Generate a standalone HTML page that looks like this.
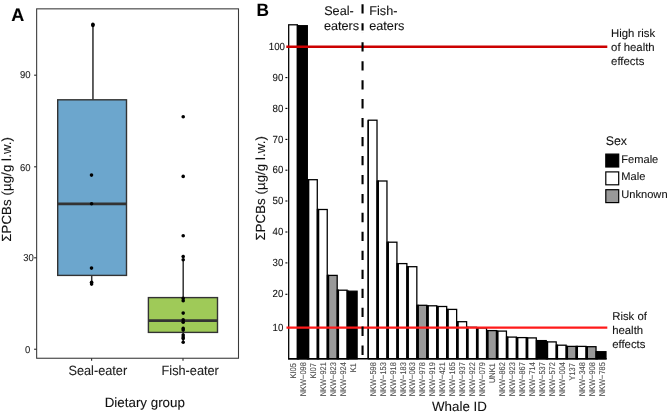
<!DOCTYPE html>
<html><head><meta charset="utf-8"><title>PCB levels in killer whales</title>
<style>html,body{margin:0;padding:0;background:#fff;}body{width:668px;height:415px;overflow:hidden;font-family:"Liberation Sans",sans-serif;}svg{display:block;will-change:transform;}text{font-family:"Liberation Sans",sans-serif;text-rendering:geometricPrecision;stroke:#1a1a1a;stroke-width:0.1px;}text.g{stroke:#4d4d4d;}</style>
</head><body>
<svg width="668" height="415" viewBox="0 0 668 415">
<rect x="0" y="0" width="668" height="415" fill="#ffffff"/>
<!-- Panel A -->
<text x="11.3" y="20.7" font-size="18" font-weight="bold" fill="#000">A</text>
<rect x="36.65" y="8.85" width="201.85" height="349.4" fill="none" stroke="#3a3a3a" stroke-width="1.08"/>
<line x1="34.1" y1="349.25" x2="36.7" y2="349.25" stroke="#333333" stroke-width="1.15"/>
<text transform="translate(30.3,352.65) scale(0.95,1)" font-size="10.0" text-anchor="end" fill="#262626">0</text>
<line x1="34.1" y1="257.80" x2="36.7" y2="257.80" stroke="#333333" stroke-width="1.15"/>
<text transform="translate(33.8,260.85) scale(0.95,1)" font-size="10.0" text-anchor="end" fill="#262626">30</text>
<line x1="34.1" y1="166.80" x2="36.7" y2="166.80" stroke="#333333" stroke-width="1.15"/>
<text transform="translate(30.6,170.55) scale(0.95,1)" font-size="10.0" text-anchor="end" fill="#262626">60</text>
<line x1="34.1" y1="75.20" x2="36.7" y2="75.20" stroke="#333333" stroke-width="1.15"/>
<text transform="translate(30.6,77.55) scale(0.95,1)" font-size="10.0" text-anchor="end" fill="#262626">90</text>
<line x1="91.6" y1="358.25" x2="91.6" y2="360.8" stroke="#333333" stroke-width="1.15"/>
<line x1="183" y1="358.25" x2="183" y2="360.8" stroke="#333333" stroke-width="1.15"/>
<text transform="translate(97.8,374.7) scale(0.95,1)" font-size="13.4" text-anchor="middle" fill="#222">Seal-eater</text>
<text transform="translate(190.2,374.7) scale(0.95,1)" font-size="13.4" text-anchor="middle" fill="#222">Fish-eater</text>
<text x="144.8" y="407.1" font-size="13.35" text-anchor="middle" fill="#111">Dietary group</text>
<text transform="translate(11.4,189.3) rotate(-90)" font-size="13.2" letter-spacing="0.105" text-anchor="middle" fill="#111">ΣPCBs (µg/g l.w.)</text>
<line x1="92.95" y1="24.8" x2="92.95" y2="99.8" stroke="#333333" stroke-width="1.55"/>
<line x1="91.7" y1="275" x2="91.7" y2="283.5" stroke="#333333" stroke-width="1.5"/>
<rect x="57.7" y="99.8" width="68.8" height="175.6" fill="#6ca6cd" stroke="#333333" stroke-width="1.4"/>
<line x1="57.7" y1="203.9" x2="126.5" y2="203.9" stroke="#333333" stroke-width="2.7"/>
<circle cx="92.9" cy="24.2" r="1.8" fill="#000"/>
<circle cx="92.9" cy="25.4" r="1.8" fill="#000"/>
<circle cx="91.5" cy="175.1" r="1.8" fill="#000"/>
<circle cx="91.6" cy="203.8" r="1.8" fill="#000"/>
<circle cx="91.5" cy="268.1" r="1.8" fill="#000"/>
<circle cx="91.6" cy="282.3" r="1.8" fill="#000"/>
<circle cx="91.6" cy="284.1" r="1.8" fill="#000"/>
<line x1="183.2" y1="259.5" x2="183.2" y2="298" stroke="#333333" stroke-width="1.5"/>
<line x1="183.2" y1="332" x2="183.2" y2="342" stroke="#333333" stroke-width="1.5"/>
<rect x="148.4" y="297.6" width="69.1" height="34.8" fill="#9fca58" stroke="#333333" stroke-width="1.4"/>
<line x1="148.4" y1="320.7" x2="217.5" y2="320.7" stroke="#333333" stroke-width="2.7"/>
<circle cx="183.2" cy="116.8" r="1.8" fill="#000"/>
<circle cx="183.2" cy="176.4" r="1.8" fill="#000"/>
<circle cx="183.2" cy="235.7" r="1.8" fill="#000"/>
<circle cx="183.2" cy="256.6" r="1.8" fill="#000"/>
<circle cx="183.2" cy="259.8" r="1.8" fill="#000"/>
<circle cx="183.2" cy="298.4" r="1.8" fill="#000"/>
<circle cx="183.2" cy="300.8" r="1.8" fill="#000"/>
<circle cx="183.2" cy="313.1" r="1.8" fill="#000"/>
<circle cx="183.2" cy="319.9" r="1.8" fill="#000"/>
<circle cx="183.2" cy="322.2" r="1.8" fill="#000"/>
<circle cx="183.2" cy="328.4" r="1.8" fill="#000"/>
<circle cx="183.2" cy="330.1" r="1.8" fill="#000"/>
<circle cx="183.2" cy="335.0" r="1.8" fill="#000"/>
<circle cx="183.2" cy="337.0" r="1.8" fill="#000"/>
<circle cx="183.2" cy="338.6" r="1.8" fill="#000"/>
<circle cx="183.2" cy="342.2" r="1.8" fill="#000"/>
<!-- Panel B -->
<text transform="translate(256.6,16.15) scale(0.965,1)" font-size="17.9" font-weight="bold" fill="#000">B</text>
<rect x="288.69" y="24.80" width="8.68" height="334.01" fill="#ffffff" stroke="#000" stroke-width="1.28"/>
<rect x="298.64" y="25.70" width="8.68" height="333.11" fill="#000000" stroke="#000" stroke-width="1.28"/>
<rect x="308.60" y="179.70" width="8.68" height="179.11" fill="#ffffff" stroke="#000" stroke-width="1.28"/>
<rect x="318.56" y="209.50" width="8.68" height="149.31" fill="#ffffff" stroke="#000" stroke-width="1.28"/>
<rect x="328.51" y="275.40" width="8.68" height="83.41" fill="#999999" stroke="#000" stroke-width="1.28"/>
<rect x="338.46" y="290.20" width="8.68" height="68.61" fill="#ffffff" stroke="#000" stroke-width="1.28"/>
<rect x="348.42" y="291.20" width="8.68" height="67.61" fill="#000000" stroke="#000" stroke-width="1.28"/>
<rect x="368.33" y="120.20" width="8.68" height="238.61" fill="#ffffff" stroke="#000" stroke-width="1.28"/>
<rect x="378.28" y="181.00" width="8.68" height="177.81" fill="#ffffff" stroke="#000" stroke-width="1.28"/>
<rect x="388.24" y="242.20" width="8.68" height="116.61" fill="#ffffff" stroke="#000" stroke-width="1.28"/>
<rect x="398.19" y="263.60" width="8.68" height="95.21" fill="#ffffff" stroke="#000" stroke-width="1.28"/>
<rect x="408.15" y="266.70" width="8.68" height="92.11" fill="#ffffff" stroke="#000" stroke-width="1.28"/>
<rect x="418.11" y="305.30" width="8.68" height="53.51" fill="#999999" stroke="#000" stroke-width="1.28"/>
<rect x="428.06" y="305.80" width="8.68" height="53.01" fill="#ffffff" stroke="#000" stroke-width="1.28"/>
<rect x="438.01" y="306.50" width="8.68" height="52.31" fill="#ffffff" stroke="#000" stroke-width="1.28"/>
<rect x="447.97" y="309.40" width="8.68" height="49.41" fill="#ffffff" stroke="#000" stroke-width="1.28"/>
<rect x="457.93" y="321.70" width="8.68" height="37.11" fill="#ffffff" stroke="#000" stroke-width="1.28"/>
<rect x="467.88" y="327.30" width="8.68" height="31.51" fill="#ffffff" stroke="#000" stroke-width="1.28"/>
<rect x="477.84" y="327.90" width="8.68" height="30.91" fill="#ffffff" stroke="#000" stroke-width="1.28"/>
<rect x="487.79" y="330.60" width="8.68" height="28.21" fill="#999999" stroke="#000" stroke-width="1.28"/>
<rect x="497.75" y="331.10" width="8.68" height="27.71" fill="#ffffff" stroke="#000" stroke-width="1.28"/>
<rect x="507.70" y="337.10" width="8.68" height="21.71" fill="#ffffff" stroke="#000" stroke-width="1.28"/>
<rect x="517.65" y="337.60" width="8.68" height="21.21" fill="#ffffff" stroke="#000" stroke-width="1.28"/>
<rect x="527.61" y="337.90" width="8.68" height="20.91" fill="#ffffff" stroke="#000" stroke-width="1.28"/>
<rect x="537.56" y="340.60" width="8.68" height="18.21" fill="#000000" stroke="#000" stroke-width="1.28"/>
<rect x="547.52" y="341.90" width="8.68" height="16.91" fill="#ffffff" stroke="#000" stroke-width="1.28"/>
<rect x="557.48" y="345.20" width="8.68" height="13.61" fill="#ffffff" stroke="#000" stroke-width="1.28"/>
<rect x="567.43" y="346.40" width="8.68" height="12.41" fill="#999999" stroke="#000" stroke-width="1.28"/>
<rect x="577.38" y="346.40" width="8.68" height="12.41" fill="#ffffff" stroke="#000" stroke-width="1.28"/>
<rect x="587.34" y="346.70" width="8.68" height="12.11" fill="#999999" stroke="#000" stroke-width="1.28"/>
<rect x="597.29" y="351.70" width="8.68" height="7.11" fill="#000000" stroke="#000" stroke-width="1.28"/>
<line x1="367.55" y1="120.2" x2="367.55" y2="359" stroke="#000" stroke-width="0.6"/>
<line x1="298.00" y1="25.06" x2="298.00" y2="359.45" stroke="#000" stroke-width="2.36"/>
<line x1="307.96" y1="179.06" x2="307.96" y2="359.45" stroke="#000" stroke-width="2.36"/>
<line x1="317.92" y1="208.86" x2="317.92" y2="359.45" stroke="#000" stroke-width="2.36"/>
<line x1="327.87" y1="274.76" x2="327.87" y2="359.45" stroke="#000" stroke-width="2.36"/>
<line x1="337.82" y1="289.56" x2="337.82" y2="359.45" stroke="#000" stroke-width="2.36"/>
<line x1="347.78" y1="290.56" x2="347.78" y2="359.45" stroke="#000" stroke-width="2.36"/>
<line x1="377.64" y1="180.36" x2="377.64" y2="359.45" stroke="#000" stroke-width="2.36"/>
<line x1="387.60" y1="241.56" x2="387.60" y2="359.45" stroke="#000" stroke-width="2.36"/>
<line x1="397.56" y1="262.96" x2="397.56" y2="359.45" stroke="#000" stroke-width="2.36"/>
<line x1="407.51" y1="266.06" x2="407.51" y2="359.45" stroke="#000" stroke-width="2.36"/>
<line x1="417.47" y1="304.66" x2="417.47" y2="359.45" stroke="#000" stroke-width="2.36"/>
<line x1="427.42" y1="305.16" x2="427.42" y2="359.45" stroke="#000" stroke-width="2.36"/>
<line x1="437.38" y1="305.86" x2="437.38" y2="359.45" stroke="#000" stroke-width="2.36"/>
<line x1="447.33" y1="308.76" x2="447.33" y2="359.45" stroke="#000" stroke-width="2.36"/>
<line x1="457.29" y1="321.06" x2="457.29" y2="359.45" stroke="#000" stroke-width="2.36"/>
<line x1="467.24" y1="326.66" x2="467.24" y2="359.45" stroke="#000" stroke-width="2.36"/>
<line x1="477.20" y1="327.26" x2="477.20" y2="359.45" stroke="#000" stroke-width="2.36"/>
<line x1="487.15" y1="329.96" x2="487.15" y2="359.45" stroke="#000" stroke-width="2.36"/>
<line x1="497.11" y1="330.46" x2="497.11" y2="359.45" stroke="#000" stroke-width="2.36"/>
<line x1="507.06" y1="336.46" x2="507.06" y2="359.45" stroke="#000" stroke-width="2.36"/>
<line x1="517.01" y1="336.96" x2="517.01" y2="359.45" stroke="#000" stroke-width="2.36"/>
<line x1="526.97" y1="337.26" x2="526.97" y2="359.45" stroke="#000" stroke-width="2.36"/>
<line x1="536.92" y1="339.96" x2="536.92" y2="359.45" stroke="#000" stroke-width="2.36"/>
<line x1="546.88" y1="341.26" x2="546.88" y2="359.45" stroke="#000" stroke-width="2.36"/>
<line x1="556.84" y1="344.56" x2="556.84" y2="359.45" stroke="#000" stroke-width="2.36"/>
<line x1="566.79" y1="345.76" x2="566.79" y2="359.45" stroke="#000" stroke-width="2.36"/>
<line x1="576.75" y1="345.76" x2="576.75" y2="359.45" stroke="#000" stroke-width="2.36"/>
<line x1="586.70" y1="346.06" x2="586.70" y2="359.45" stroke="#000" stroke-width="2.36"/>
<line x1="596.65" y1="351.06" x2="596.65" y2="359.45" stroke="#000" stroke-width="2.36"/>
<line x1="288.05" y1="358.8" x2="606.61" y2="358.8" stroke="#000" stroke-width="1.4"/>
<line x1="286.3" y1="46.8" x2="607.3" y2="46.8" stroke="#cc0000" stroke-width="2.4"/>
<line x1="286.5" y1="327.6" x2="607.3" y2="327.6" stroke="#ff1a1a" stroke-width="2.4"/>
<line x1="362.55" y1="4.3" x2="362.55" y2="357.9" stroke="#000" stroke-width="2.1" stroke-dasharray="9.3 9.66"/>
<rect x="361" y="30.5" width="3.2" height="2.4" fill="#fff"/>
<text transform="translate(285.0,49.65) scale(0.94,1)" font-size="10.3" text-anchor="end" fill="#111">100</text>
<line x1="285.4" y1="77.6" x2="287.4" y2="77.6" stroke="#000" stroke-width="1.1"/>
<text transform="translate(283.4,80.75) scale(0.94,1)" font-size="10.3" text-anchor="end" fill="#111">90</text>
<line x1="285.4" y1="108.4" x2="287.4" y2="108.4" stroke="#000" stroke-width="1.1"/>
<text transform="translate(283.4,111.55) scale(0.94,1)" font-size="10.3" text-anchor="end" fill="#111">80</text>
<line x1="285.4" y1="139.4" x2="287.4" y2="139.4" stroke="#000" stroke-width="1.1"/>
<text transform="translate(283.4,142.55) scale(0.94,1)" font-size="10.3" text-anchor="end" fill="#111">70</text>
<line x1="285.4" y1="170.2" x2="287.4" y2="170.2" stroke="#000" stroke-width="1.1"/>
<text transform="translate(283.4,173.35) scale(0.94,1)" font-size="10.3" text-anchor="end" fill="#111">60</text>
<line x1="285.4" y1="201.0" x2="287.4" y2="201.0" stroke="#000" stroke-width="1.1"/>
<text transform="translate(283.4,204.15) scale(0.94,1)" font-size="10.3" text-anchor="end" fill="#111">50</text>
<line x1="285.4" y1="232.0" x2="287.4" y2="232.0" stroke="#000" stroke-width="1.1"/>
<text transform="translate(283.4,235.15) scale(0.94,1)" font-size="10.3" text-anchor="end" fill="#111">40</text>
<line x1="285.4" y1="262.9" x2="287.4" y2="262.9" stroke="#000" stroke-width="1.1"/>
<text transform="translate(283.4,266.05) scale(0.94,1)" font-size="10.3" text-anchor="end" fill="#111">30</text>
<line x1="285.4" y1="294.3" x2="287.4" y2="294.3" stroke="#000" stroke-width="1.1"/>
<text transform="translate(283.4,297.45) scale(0.94,1)" font-size="10.3" text-anchor="end" fill="#111">20</text>
<text transform="translate(283.4,330.95) scale(0.94,1)" font-size="10.3" text-anchor="end" fill="#111">10</text>
<text transform="translate(296.03,363.1) rotate(-90) scale(0.895,1)" class="g" font-size="8.35" text-anchor="end" fill="#4d4d4d">KI05</text>
<text transform="translate(305.98,362.1) rotate(-90) scale(0.895,1)" class="g" font-size="8.35" text-anchor="end" fill="#4d4d4d">NKW−098</text>
<text transform="translate(315.94,363.1) rotate(-90) scale(0.895,1)" class="g" font-size="8.35" text-anchor="end" fill="#4d4d4d">KI07</text>
<text transform="translate(325.89,362.1) rotate(-90) scale(0.895,1)" class="g" font-size="8.35" text-anchor="end" fill="#4d4d4d">NKW−921</text>
<text transform="translate(335.85,362.1) rotate(-90) scale(0.895,1)" class="g" font-size="8.35" text-anchor="end" fill="#4d4d4d">NKW−823</text>
<text transform="translate(345.80,362.1) rotate(-90) scale(0.895,1)" class="g" font-size="8.35" text-anchor="end" fill="#4d4d4d">NKW−924</text>
<text transform="translate(355.76,363.1) rotate(-90) scale(0.895,1)" class="g" font-size="8.35" text-anchor="end" fill="#4d4d4d">K1</text>
<text transform="translate(375.67,362.1) rotate(-90) scale(0.895,1)" class="g" font-size="8.35" text-anchor="end" fill="#4d4d4d">NKW−598</text>
<text transform="translate(385.62,362.1) rotate(-90) scale(0.895,1)" class="g" font-size="8.35" text-anchor="end" fill="#4d4d4d">NKW−153</text>
<text transform="translate(395.58,362.1) rotate(-90) scale(0.895,1)" class="g" font-size="8.35" text-anchor="end" fill="#4d4d4d">NKW−918</text>
<text transform="translate(405.53,362.1) rotate(-90) scale(0.895,1)" class="g" font-size="8.35" text-anchor="end" fill="#4d4d4d">NKW−183</text>
<text transform="translate(415.49,362.1) rotate(-90) scale(0.895,1)" class="g" font-size="8.35" text-anchor="end" fill="#4d4d4d">NKW−063</text>
<text transform="translate(425.44,362.1) rotate(-90) scale(0.895,1)" class="g" font-size="8.35" text-anchor="end" fill="#4d4d4d">NKW−978</text>
<text transform="translate(435.40,362.1) rotate(-90) scale(0.895,1)" class="g" font-size="8.35" text-anchor="end" fill="#4d4d4d">NKW−919</text>
<text transform="translate(445.35,362.1) rotate(-90) scale(0.895,1)" class="g" font-size="8.35" text-anchor="end" fill="#4d4d4d">NKW−421</text>
<text transform="translate(455.31,362.1) rotate(-90) scale(0.895,1)" class="g" font-size="8.35" text-anchor="end" fill="#4d4d4d">NKW−165</text>
<text transform="translate(465.26,362.1) rotate(-90) scale(0.895,1)" class="g" font-size="8.35" text-anchor="end" fill="#4d4d4d">NKW−937</text>
<text transform="translate(475.22,362.1) rotate(-90) scale(0.895,1)" class="g" font-size="8.35" text-anchor="end" fill="#4d4d4d">NKW−922</text>
<text transform="translate(485.17,362.1) rotate(-90) scale(0.895,1)" class="g" font-size="8.35" text-anchor="end" fill="#4d4d4d">NKW−079</text>
<text transform="translate(495.13,363.1) rotate(-90) scale(0.895,1)" class="g" font-size="8.35" text-anchor="end" fill="#4d4d4d">UNK1</text>
<text transform="translate(505.08,362.1) rotate(-90) scale(0.895,1)" class="g" font-size="8.35" text-anchor="end" fill="#4d4d4d">NKW−862</text>
<text transform="translate(515.04,362.1) rotate(-90) scale(0.895,1)" class="g" font-size="8.35" text-anchor="end" fill="#4d4d4d">NKW−923</text>
<text transform="translate(524.99,362.1) rotate(-90) scale(0.895,1)" class="g" font-size="8.35" text-anchor="end" fill="#4d4d4d">NKW−867</text>
<text transform="translate(534.95,362.1) rotate(-90) scale(0.895,1)" class="g" font-size="8.35" text-anchor="end" fill="#4d4d4d">NKW−714</text>
<text transform="translate(544.90,362.1) rotate(-90) scale(0.895,1)" class="g" font-size="8.35" text-anchor="end" fill="#4d4d4d">NKW−537</text>
<text transform="translate(554.86,362.1) rotate(-90) scale(0.895,1)" class="g" font-size="8.35" text-anchor="end" fill="#4d4d4d">NKW−572</text>
<text transform="translate(564.81,362.1) rotate(-90) scale(0.895,1)" class="g" font-size="8.35" text-anchor="end" fill="#4d4d4d">NKW−004</text>
<text transform="translate(574.77,363.1) rotate(-90) scale(0.895,1)" class="g" font-size="8.35" text-anchor="end" fill="#4d4d4d">Y137</text>
<text transform="translate(584.72,362.1) rotate(-90) scale(0.895,1)" class="g" font-size="8.35" text-anchor="end" fill="#4d4d4d">NKW−348</text>
<text transform="translate(594.68,362.1) rotate(-90) scale(0.895,1)" class="g" font-size="8.35" text-anchor="end" fill="#4d4d4d">NKW−908</text>
<text transform="translate(604.63,362.1) rotate(-90) scale(0.895,1)" class="g" font-size="8.35" text-anchor="end" fill="#4d4d4d">NKW−785</text>
<text x="459.45" y="410.5" font-size="13.35" text-anchor="middle" fill="#111">Whale ID</text>
<text transform="translate(264.8,188.35) rotate(-90)" font-size="13.2" letter-spacing="0.09" text-anchor="middle" fill="#111">ΣPCBs (µg/g l.w.)</text>
<text x="324.2" y="14.75" font-size="12.65" fill="#111">Seal-</text>
<text x="324.0" y="29.7" font-size="12.65" fill="#111">eaters</text>
<text x="369.3" y="14.75" font-size="12.65" fill="#111">Fish-</text>
<text x="369.3" y="29.7" font-size="12.65" fill="#111">eaters</text>
<text x="611.1" y="37.1" font-size="11.35" fill="#111">High risk</text>
<text x="611.1" y="50.8" font-size="11.35" fill="#111">of health</text>
<text x="611.1" y="64.7" font-size="11.35" fill="#111">effects</text>
<text x="612.2" y="320.10" font-size="11.35" fill="#111">Risk of</text>
<text x="612.2" y="333.90" font-size="11.35" fill="#111">health</text>
<text x="612.2" y="347.70" font-size="11.35" fill="#111">effects</text>
<text x="605.7" y="145.3" font-size="12.4" fill="#111">Sex</text>
<rect x="605.8" y="154.10" width="12.9" height="12.9" fill="#000000" stroke="#000" stroke-width="1.2"/>
<text x="621.3" y="162.70" font-size="11.1" fill="#111">Female</text>
<rect x="605.8" y="171.90" width="12.9" height="12.9" fill="#ffffff" stroke="#000" stroke-width="1.2"/>
<text x="621.3" y="180.45" font-size="11.1" fill="#111">Male</text>
<rect x="605.8" y="189.70" width="12.9" height="12.9" fill="#999999" stroke="#000" stroke-width="1.2"/>
<text x="621.3" y="198.20" font-size="11.1" fill="#111">Unknown</text>
</svg>
</body></html>
